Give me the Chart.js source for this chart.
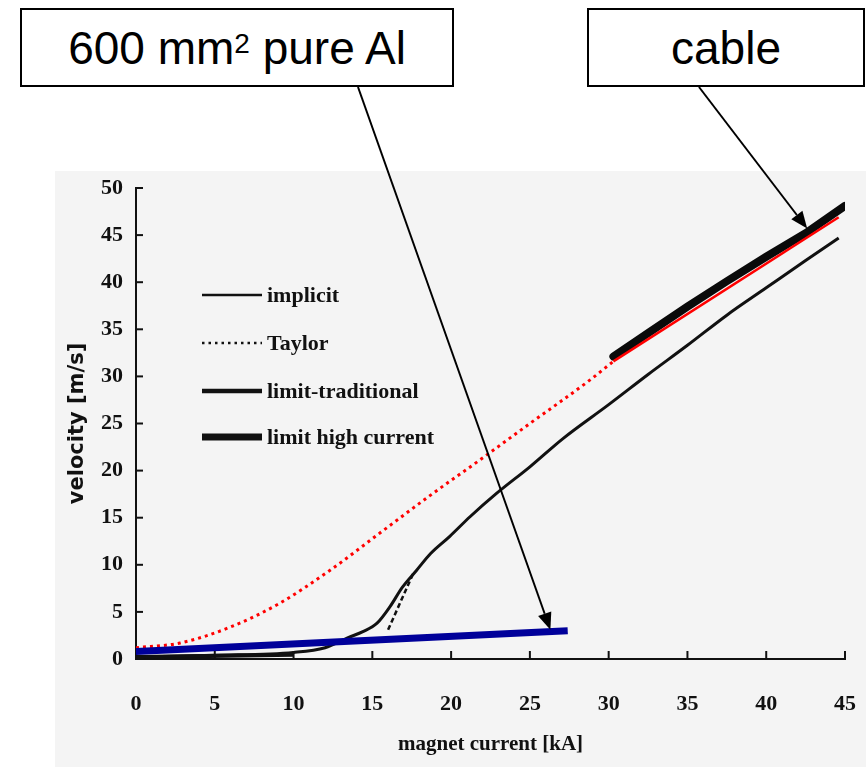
<!DOCTYPE html>
<html lang="en">
<head>
    <meta charset="UTF-8">
    <title>velocity vs magnet current</title>
    <style>
        body { margin: 0; padding: 0; background: #fff; }
        #wrap { position: relative; width: 866px; height: 767px; overflow: hidden; }
        #chart { position: absolute; left: 0; top: 0; }
        .note { position: absolute; top: 8px; height: 75px; border: 2px solid #000; background: #fff;
                font-family: "Liberation Sans", Arial, sans-serif; font-size: 46px; color: #000;
                display: flex; align-items: center; justify-content: center; box-sizing: content-box; }
        .note sup { font-size: 28px; position: relative; top: -4px; vertical-align: top; line-height: 1; }
    </style>
</head>
<body>
<div id="wrap">
    <canvas id="chart" width="866" height="767"></canvas>
    <div class="note" style="left:20px; width:430px;">600&nbsp;mm<sup>2</sup>&nbsp;pure Al</div>
    <div class="note" style="left:587px; width:274px;">cable</div>
</div>

<script src="https://cdn.jsdelivr.net/npm/chart.js"></script>
<script>
// values (x: magnet current in kA, y: velocity in m/s)
const implicitI = [0, 5, 10, 12, 13.5, 14.4, 15.3, 16.1, 16.9, 17.8, 18.7, 19.9, 21.2, 22.9, 25.0, 27.1, 30.0, 32.5, 35.0, 37.5, 40.0, 42.5, 44.6];
const implicitV = [0.2, 0.4, 0.7, 1.2, 2.3, 2.9, 3.8, 5.5, 7.6, 9.4, 11.2, 13.0, 15.1, 17.6, 20.4, 23.4, 27.0, 30.2, 33.3, 36.5, 39.4, 42.3, 44.7];

const taylorI = [0, 2.8, 6.0, 9.1, 12.3, 15.5, 18.7, 21.8, 25.0, 28.8, 30.3];
const taylorV = [1.2, 1.7, 3.4, 5.9, 9.4, 13.4, 17.4, 21.1, 25.0, 29.6, 31.6];

const tradI = [0, 10];
const tradV = [0.2, 0.45];
const tradDashI = [16.0, 17.6];
const tradDashV = [3.1, 9.1];

const highI = [30.3, 32.5, 35.0, 37.5, 40.0, 42.5, 45.0];
const highV = [32.1, 34.6, 37.4, 40.1, 42.7, 45.2, 48.1];

// annotation overlays (red cable line, blue pure Al line)
const cableI = [30.3, 44.6];
const cableV = [31.6, 46.9];
const alI = [0, 27.4];
const alV = [0.8, 3.0];

const xTicks = [0, 5, 10, 15, 20, 25, 30, 35, 40, 45];
const yTicks = [0, 5, 10, 15, 20, 25, 30, 35, 40, 45, 50];

const legendNames = ['implicit', 'Taylor', 'limit-traditional', 'limit high current'];

function pts(xs, ys) {
    return xs.map((x, i) => ({ x: x, y: ys[i] }));
}

const serif = '"Liberation Serif", "Times New Roman", serif';

// scanned page background + legend + inward ticks + arrows
const paperPlugin = {
    id: 'paper',
    beforeDraw(chart) {
        const c = chart.ctx;
        c.save();
        c.fillStyle = '#f4f4f4';
        c.fillRect(55, 171, 811, 596);
        c.restore();
    },
    afterDraw(chart) {
        const c = chart.ctx;
        const xs = chart.scales.x, ys = chart.scales.y;
        const area = chart.chartArea;
        c.save();
        c.strokeStyle = '#111';
        c.lineWidth = 2;
        // inward tick marks
        yTicks.forEach(v => {
            const py = ys.getPixelForValue(v);
            c.beginPath(); c.moveTo(area.left, py); c.lineTo(area.left + 7, py); c.stroke();
        });
        xTicks.forEach(v => {
            if (v === 0) return;
            const px = xs.getPixelForValue(v);
            c.beginPath(); c.moveTo(px, area.bottom); c.lineTo(px, area.bottom - 8); c.stroke();
        });

        // legend inside the plot
        const rows = [295, 343, 391, 437];
        const widths = [2.5, 2.5, 4.5, 7];
        c.font = 'bold 22px ' + serif;
        c.fillStyle = '#111';
        c.textBaseline = 'middle';
        rows.forEach((y, i) => {
            c.beginPath();
            c.lineWidth = widths[i];
            c.setLineDash(i === 1 ? [2.5, 4] : []);
            c.moveTo(202, y); c.lineTo(262, y);
            c.stroke();
            c.fillText(legendNames[i], 267, y + 1);
        });
        c.setLineDash([]);

        // arrows from the note boxes
        const arrow = (x0, y0, x1, y1) => {
            const a = Math.atan2(y1 - y0, x1 - x0);
            const L = 17, W = 7;
            c.strokeStyle = '#000';
            c.fillStyle = '#000';
            c.lineWidth = 2;
            c.beginPath(); c.moveTo(x0, y0);
            c.lineTo(x1 - L * Math.cos(a), y1 - L * Math.sin(a)); c.stroke();
            c.beginPath();
            c.moveTo(x1, y1);
            c.lineTo(x1 - L * Math.cos(a) + W * Math.sin(a), y1 - L * Math.sin(a) - W * Math.cos(a));
            c.lineTo(x1 - L * Math.cos(a) - W * Math.sin(a), y1 - L * Math.sin(a) + W * Math.cos(a));
            c.closePath(); c.fill();
        };
        arrow(358, 87, xs.getPixelForValue(26.3), ys.getPixelForValue(3.1));
        arrow(699, 87, xs.getPixelForValue(42.6), ys.getPixelForValue(45.7));
        c.restore();
    }
};

const ctx = document.getElementById('chart').getContext('2d');
new Chart(ctx, {
    type: 'scatter',
    data: {
        datasets: [
            { label: 'pure Al', data: pts(alI, alV), borderColor: '#00009a', borderWidth: 7 },
            { label: 'cable', data: pts(cableI, cableV), borderColor: '#ff0000', borderWidth: 2.5 },
            { label: 'Taylor', data: pts(taylorI, taylorV), borderColor: '#ff0000', borderWidth: 3,
              borderDash: [3, 4], cubicInterpolationMode: 'monotone' },
            { label: 'limit high current', data: pts(highI, highV), borderColor: '#0a0a0a', borderWidth: 8,
              borderCapStyle: 'round' },
            { label: 'implicit', data: pts(implicitI, implicitV), borderColor: '#111', borderWidth: 3,
              cubicInterpolationMode: 'monotone' },
            { label: 'limit-traditional', data: pts(tradI, tradV), borderColor: '#111', borderWidth: 4 },
            { label: 'limit-traditional (high I)', data: pts(tradDashI, tradDashV), borderColor: '#111',
              borderWidth: 2.5, borderDash: [5, 3] }
        ]
    },
    options: {
        responsive: false,
        animation: false,
        showLine: true,
        elements: { point: { radius: 0 }, line: { fill: false } },
        layout: { padding: { top: 188, right: 21, left: 0, bottom: 0 } },
        plugins: { legend: { display: false }, tooltip: { enabled: false } },
        scales: {
            x: {
                type: 'linear', min: 0, max: 45,
                afterBuildTicks: s => { s.ticks = xTicks.map(v => ({ value: v })); },
                afterFit: s => { s.height = 108; },
                // gap under the axis comes from an invisible tick length, so the last label
                // does not eat into the right side of the plot
                grid: { display: false, drawTicks: true, tickLength: 29 },
                border: { display: true, color: '#111', width: 2 },
                ticks: { padding: 3, color: '#111', font: { family: serif, size: 22, weight: 'bold' } },
                title: { display: true, text: 'magnet current [kA]', color: '#111',
                         padding: { top: 0, bottom: 10 }, font: { family: serif, size: 21, weight: 'bold' } }
            },
            y: {
                type: 'linear', min: 0, max: 50,
                afterBuildTicks: s => { s.ticks = yTicks.map(v => ({ value: v })); },
                afterFit: s => { s.width = 136; },
                grid: { display: false, drawTicks: false },
                border: { display: true, color: '#111', width: 2 },
                ticks: { padding: 13, color: '#111', font: { family: serif, size: 22, weight: 'bold' } },
                title: { display: true, text: 'velocity [m/s]', color: '#111',
                         padding: { top: 65, bottom: 0 }, font: { family: '"DejaVu Sans", sans-serif', size: 21, weight: 'bold' } }
            }
        }
    },
    plugins: [paperPlugin]
});
</script>
</body>
</html>
